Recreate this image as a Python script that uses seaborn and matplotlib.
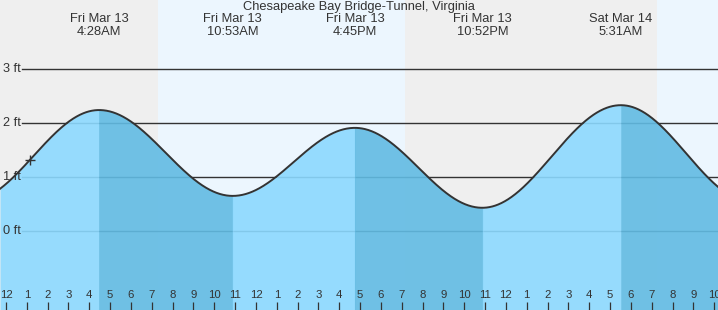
import numpy as np
import pandas as pd
import matplotlib
matplotlib.use("Agg")
import matplotlib.pyplot as plt
import seaborn as sns

# ---- data (hours since Fri Mar 13 00:00) ----
title = "Chesapeake Bay Bridge-Tunnel, Virginia"
extreme_hours = [-1.8, 4.467, 10.883, 16.75, 22.867, 29.517, 35.8]   # tide extremes (incl. ones just off-chart)
extreme_heights = [0.55, 2.24, 0.65, 1.91, 0.43, 2.33, 0.54]          # ft
extreme_labels = ["", "Fri Mar 13\n4:28AM", "Fri Mar 13\n10:53AM", "Fri Mar 13\n4:45PM",
                  "Fri Mar 13\n10:52PM", "Sat Mar 14\n5:31AM", ""]
sun_hours = [7.30, 19.15, 31.25]        # sunrise, sunset, sunrise
now_hour, now_height = 1.15, 1.31
y_levels = [0, 1, 2, 3]
y_labels = ["0 ft", "1 ft", "2 ft", "3 ft"]
hour_ticks = list(range(0, 35))
hour_labels = [str((h % 12) or 12) for h in hour_ticks]
midnights = [0, 24]

XMIN, XMAX = -0.288, 34.18
YMIN, YMAX = -1.463, 4.278

plt.rcParams['font.family'] = ['Liberation Sans', 'DejaVu Sans']
TXT = "#333333"

fig = plt.figure(figsize=(7.18, 3.10), dpi=100)
ax = fig.add_axes([0, 0, 1, 1])
ax.set_xlim(XMIN, XMAX)
ax.set_ylim(YMIN, YMAX)

# day / night background
bounds = [XMIN] + sun_hours + [XMAX]
night = "#efefef"
day = "#ecf6fe"
for i in range(len(bounds) - 1):
    ax.axvspan(bounds[i], bounds[i + 1], color=night if i % 2 == 0 else day, zorder=0, lw=0)

# grid lines and labels
for lv, lb in zip(y_levels, y_labels):
    ax.axhline(lv, xmin=22 / 718, xmax=1, color=TXT, lw=1.0, zorder=1)
    ax.text(3 / 718, lv, lb, transform=ax.get_yaxis_transform(), ha="left", va="center",
            fontsize=9.2, color=TXT, zorder=7)

# tide curve: cosine interpolation between extremes
t = np.linspace(XMIN, XMAX, 1500)
h = np.empty_like(t)
seg = np.searchsorted(extreme_hours, t) - 1
for k in range(len(extreme_hours) - 1):
    m = seg == k
    t0, t1 = extreme_hours[k], extreme_hours[k + 1]
    h0, h1 = extreme_heights[k], extreme_heights[k + 1]
    f = (t[m] - t0) / (t1 - t0)
    h[m] = h0 + (h1 - h0) * (1 - np.cos(np.pi * f)) / 2
df = pd.DataFrame({"hour": t, "height": h, "seg": seg})

light = "#8cd9ff"
dark = "#61bbe3"
for k in range(len(extreme_hours) - 1):
    idx = np.where((df.seg == k).values)[0]
    if len(idx) == 0:
        continue
    lo, hi = max(idx[0] - 1, 0), min(idx[-1] + 1, len(t) - 1)
    falling = extreme_heights[k + 1] < extreme_heights[k]
    ax.fill_between(t[lo:hi + 1], YMIN, h[lo:hi + 1], color=dark if falling else light,
                    alpha=0.9, lw=0, zorder=2)

sns.lineplot(data=df, x="hour", y="height", ax=ax, color=TXT, lw=1.4, zorder=3,
             sort=False, estimator=None)
ax.plot([now_hour], [now_height], marker="+", ms=6.5, mew=1.0, color=TXT, zorder=4)

# annotations
for hr, lb in zip(extreme_hours, extreme_labels):
    if lb:
        l1, l2 = lb.split("\n")
        ax.text(hr, 1 - 19 / 310, l1, transform=ax.get_xaxis_transform(),
                ha="center", va="center", fontsize=9.3, color=TXT, zorder=5)
        ax.text(hr, 1 - 32 / 310, l2, transform=ax.get_xaxis_transform(),
                ha="center", va="center", fontsize=9.3, color=TXT, zorder=5)
ax.text(0.5, 1 - 7 / 310, title, transform=ax.transAxes, ha="center", va="center",
        fontsize=9.3, color=TXT, zorder=5)

# hour ticks
ax.set_xticks(hour_ticks)
ax.set_xticklabels(hour_labels)
ax.set_xticks(midnights, minor=True)
ax.tick_params(axis="x", which="major", direction="in", length=5.8, width=0.9, color=TXT,
               labelsize=8.2, labelcolor=TXT, pad=-14.4)
ax.tick_params(axis="x", which="minor", direction="in", length=5.8, width=2.2, color=TXT)
ax.set_yticks([])
for s in ax.spines.values():
    s.set_visible(False)
ax.set_xlabel("")
ax.set_ylabel("")
for tk in ax.xaxis.get_major_ticks() + ax.xaxis.get_minor_ticks():
    tk.tick1line.set_zorder(6)
    tk.label1.set_zorder(6)
ax.set_axisbelow(False)

fig.savefig("out.png", dpi=100)
